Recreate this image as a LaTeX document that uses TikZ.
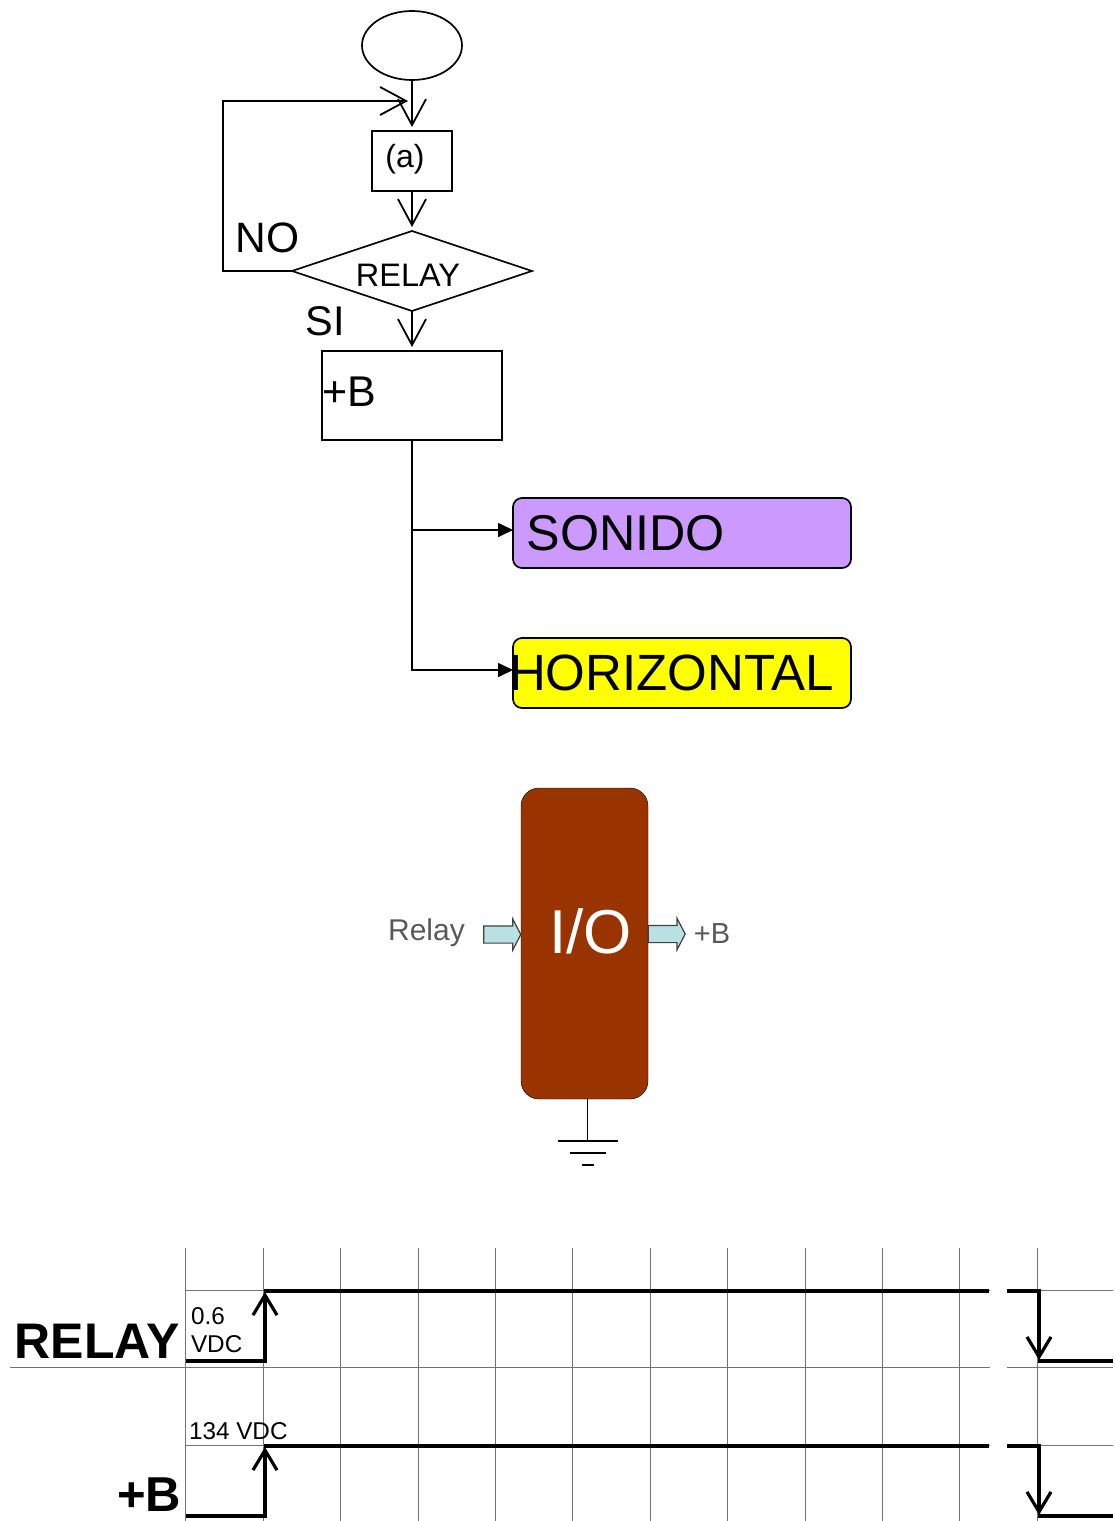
\documentclass[tikz,border=0pt]{standalone}
\usepackage{fontspec}
\setmainfont{Liberation Sans}
\usetikzlibrary{positioning}
\usetikzlibrary{calc}
\usetikzlibrary{arrows.meta}
\usetikzlibrary{shapes.geometric}
\usetikzlibrary{shapes.arrows}
\definecolor{ioBrown}{HTML}{993300}
\definecolor{arrowBlue}{HTML}{B9E1E3}
\definecolor{sonidoPurple}{HTML}{CC99FF}
\definecolor{horizYellow}{HTML}{FFFF00}
\tikzset{
  flow/.style    = { draw=black, line width=1.7pt, inner sep=0pt, outer sep=0pt },
  startnode/.style = { flow, ellipse, minimum width=100pt, minimum height=69pt },
  stepbox/.style = { flow, rectangle },
  decision/.style = { flow, diamond, minimum width=240pt, minimum height=80pt, aspect=3, font=\fontsize{32.5}{32.5}\selectfont },
  block/.style   = { flow, rounded corners=9pt, minimum width=338pt, minimum height=70pt, text width=338pt, align=left, font=\fontsize{51}{51}\selectfont },
  caption/.style = { inner sep=0pt, outer sep=0pt },
  flowline/.style = { line width=1.9pt, shorten >=4pt, -{Straight Barb[length=26pt,width=28pt,line width=1.8pt]} },
  feedline/.style = { line width=1.7pt, -{Triangle[length=15pt,width=14pt]} },
  pinarrow/.style = { draw=black!75, fill=arrowBlue, line width=1.2pt, single arrow, single arrow head extend=7pt, single arrow tip angle=125, minimum height=37pt, text height=8pt, text depth=8pt, text width=0pt, inner sep=0pt, outer sep=0pt },
  gridline/.style = { black!55, line width=1pt },
  signal/.style  = { line width=3.6pt },
  edgearrow/.style = { signal, -{Straight Barb[length=20pt,width=24pt,line width=3.2pt]} },
}
\begin{document}
\begin{tikzpicture}[x=1pt,y=-1pt]
  \useasboundingbox (0,0) rectangle (1115,1521);

  % flow chart
  \node (start)  [startnode] at (412,45.5)           {};
  \node (a)      [stepbox,minimum width=80pt,minimum height=60pt,below=51pt of start,font=\fontsize{32}{32}\selectfont] {\raisebox{2pt}[\height][\depth]{(a)}\hspace*{14pt}};
  \node (relay)  [decision,below=40pt of a]          {\raisebox{-4pt}[\height][\depth]{RELAY}\hspace*{8pt}};
  \node (plusb)  [stepbox,minimum width=180pt,minimum height=89pt,text width=180pt,align=left,below=40pt of relay,font=\fontsize{43}{43}\selectfont] {\raisebox{4pt}[\height][\depth]{+B}};
  \node (sonido) [block,fill=sonidoPurple,below right=58pt and 11pt of plusb.south east,anchor=north west,font=\fontsize{50.3}{50.3}\selectfont] {\hspace*{13.5pt}SONIDO};
  \node (horiz)  [block,fill=horizYellow,below=70pt of sonido] {\hspace*{-4pt}HORIZONTAL};
  \node (no)     [caption,font=\fontsize{42.5}{42.5}\selectfont] at (267.5,238) {NO};
  \node (si)     [caption,font=\fontsize{41.5}{41.5}\selectfont] at (325,321)   {SI};

  \coordinate (join)     at ($(start.south)+(0,21)$);
  \coordinate (sonidoin) at ($(sonido.west)+(0,-3)$);
  \coordinate (horizin)  at ($(horiz.west)+(0,-3)$);

  \draw [flowline] (start) -- (a);
  \draw [flowline] (a) -- (relay);
  \draw [flowline] (relay) -- (plusb);
  \draw [flowline] (relay.west) -- ++(-69,0) |- (join);
  \draw [feedline] (plusb.south) -- (plusb.south |- horizin) -- (horizin);
  \draw [feedline] (plusb.south |- sonidoin) -- (sonidoin);

  % I/O block
  \node (io)     [draw=black,fill=ioBrown,rounded corners=18pt,minimum width=127pt,minimum height=311pt,inner sep=0pt] at (584.5,943.5) {};
  \node (iotext) [caption,text=white,font=\fontsize{62}{62}\selectfont] at (590.5,931) {I/O};
  \node (pinin)  [pinarrow,left=0pt of io.west,yshift=9pt]  {};
  \node (pinout) [pinarrow,right=0pt of io.east,yshift=9.5pt] {};
  \node (relaylabel) [caption,text=black!65,font=\fontsize{30}{30}\selectfont] at (426.5,933) {Relay};
  \node (blabel)     [caption,text=black!65,font=\fontsize{29}{29}\selectfont] at (712,934)  {+B};
  \coordinate (gnd) at (587.5,1141);
  \draw [black,line width=1.2pt] (io.south -| gnd) -- (gnd);
  \draw [black,line width=1.2pt] ($(gnd)+(-30,0)$) -- ($(gnd)+(30,0)$);
  \draw [black,line width=1.2pt] ($(gnd)+(-18,12)$) -- ($(gnd)+(18,12)$);
  \draw [black,line width=1.2pt] ($(gnd)+(-6,24)$) -- ($(gnd)+(6,24)$);

  % timing grid
  \foreach \x in {185.7,263.2,340.7,418.2,495.6,572.8,650.2,727.7,805.1,882.5,959.7,1037}
    \draw [gridline] (\x,1248) -- (\x,1521);
  \foreach \y/\xstart in {1290/186,1367.5/10,1445/186} {
    \draw [gridline] (\xstart,\y) -- (990,\y);
    \draw [gridline] (1007,\y) -- (1113,\y);
  }

  % signals
  \foreach \yhigh/\ylow in {1291/1361,1446/1516} {
    \draw [signal,line cap=butt] (186,\ylow) -| (265,\yhigh+4);
    \draw [edgearrow] (265,\yhigh+20) -- (265,\yhigh+1);
    \draw [signal] (263.5,\yhigh) -- (989,\yhigh);
    \draw [signal] (1007,\yhigh) -| (1039,\ylow-20);
    \draw [edgearrow] (1039,\ylow-20) -- (1039,\ylow-1);
    \draw [signal] (1037.5,\ylow) -- (1113,\ylow);
  }

  \node (relayname) [caption,font=\bfseries\fontsize{50}{50}\selectfont] at (97,1341)    {RELAY};
  \node (bname)     [caption,font=\bfseries\fontsize{49}{49}\selectfont] at (149,1494.5) {+B};
  \node (low)       [caption,anchor=west,font=\fontsize{24.3}{24.3}\selectfont] at (191,1316)  {0.6};
  \node (lowunit)   [caption,anchor=west,font=\fontsize{24.3}{24.3}\selectfont] at (191,1344)  {VDC};
  \node (high)      [caption,anchor=west,font=\fontsize{24.3}{24.3}\selectfont] at (189,1431)  {134 VDC};
\end{tikzpicture}
\end{document}
